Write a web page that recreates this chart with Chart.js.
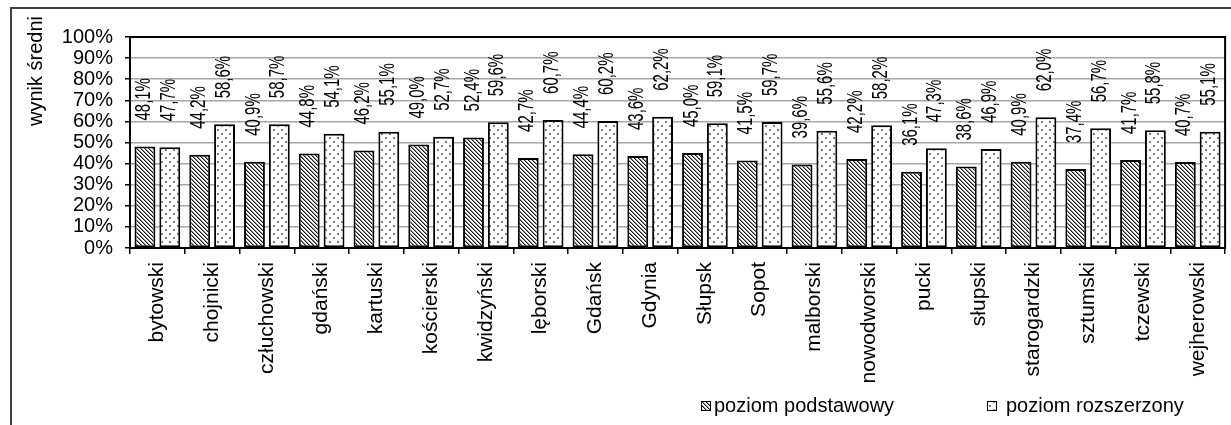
<!DOCTYPE html>
<html lang="pl">
<head>
    <meta charset="UTF-8">
    <title>wynik średni</title>
    <style>
        body {
            margin: 0;
            background-color: #ffffff;
            overflow: hidden;
        }
        #chartBox {
            width: 1231px;
            height: 425px;
        }
    </style>
</head>
<body>
    <div id="chartBox">
        <canvas id="wynikiChart" width="1231" height="425"></canvas>
    </div>

    <script src="https://cdn.jsdelivr.net/npm/chart.js"></script>

    <script>
        const powiaty = ['bytowski', 'chojnicki', 'człuchowski', 'gdański', 'kartuski', 'kościerski',
            'kwidzyński', 'lęborski', 'Gdańsk', 'Gdynia', 'Słupsk', 'Sopot', 'malborski',
            'nowodworski', 'pucki', 'słupski', 'starogardzki', 'sztumski', 'tczewski', 'wejherowski'];

        const poziomPodstawowy = [48.1, 44.2, 40.9, 44.8, 46.2, 49.0, 52.4, 42.7, 44.4, 43.6,
            45.0, 41.5, 39.6, 42.2, 36.1, 38.6, 40.9, 37.4, 41.7, 40.7];

        const poziomRozszerzony = [47.7, 58.6, 58.7, 54.1, 55.1, 52.7, 59.6, 60.7, 60.2, 62.2,
            59.1, 59.7, 55.6, 58.2, 47.3, 46.9, 62.0, 56.7, 55.8, 55.1];

        const seriesNames = ['poziom podstawowy', 'poziom rozszerzony'];
        const yTitle = 'wynik średni';

        // fill patterns: diagonal hatch and sparse dots
        function hatchPattern() {
            const c = document.createElement('canvas');
            c.width = 4; c.height = 4;
            const g = c.getContext('2d');
            g.fillStyle = '#fff';
            g.fillRect(0, 0, 4, 4);
            for (let i = 0; i < 4; i++) {
                g.fillStyle = '#1a1a1a';
                g.fillRect(i, i, 1, 1);
                g.fillStyle = '#8a8a8a';
                g.fillRect((i + 1) % 4, i, 1, 1);
            }
            return g.createPattern(c, 'repeat');
        }

        function dotPattern() {
            const c = document.createElement('canvas');
            c.width = 8; c.height = 8;
            const g = c.getContext('2d');
            g.fillStyle = '#fff';
            g.fillRect(0, 0, 8, 8);
            g.fillStyle = '#7a7a7a';
            g.fillRect(1, 1, 2, 2);
            g.fillRect(5, 5, 2, 2);
            return g.createPattern(c, 'repeat');
        }

        const fmt = v => v.toFixed(1).replace('.', ',') + '%';

        const framePlugin = {
            id: 'frame',
            beforeDraw(chart) {
                const ctx = chart.ctx;
                ctx.save();
                ctx.strokeStyle = '#404040';
                ctx.lineWidth = 2;
                ctx.strokeRect(11, 8, 1400, 600);
                ctx.restore();
            },
            afterDraw(chart) {
                const ctx = chart.ctx;
                const a = chart.chartArea;
                ctx.save();
                ctx.strokeStyle = '#000';
                ctx.lineWidth = 2;
                ctx.strokeRect(a.left, a.top, a.right - a.left, a.bottom - a.top);

                // y axis title
                ctx.translate(36, 71);
                ctx.rotate(-Math.PI / 2);
                ctx.font = '20px Arial, "Liberation Sans", sans-serif';
                ctx.fillStyle = '#000';
                ctx.textAlign = 'center';
                ctx.textBaseline = 'middle';
                ctx.fillText(yTitle, 0, 0);
                ctx.restore();

                // legend
                const items = [
                    { box: 701, text: 714 },
                    { box: 987, text: 1006 }
                ];
                ctx.save();
                ctx.font = '20px Arial, "Liberation Sans", sans-serif';
                ctx.textBaseline = 'middle';
                items.forEach((it, i) => {
                    ctx.fillStyle = chart.data.datasets[i].backgroundColor;
                    ctx.fillRect(it.box, 401, 9, 9);
                    ctx.strokeStyle = '#000';
                    ctx.lineWidth = 1;
                    ctx.strokeRect(it.box + 0.5, 401.5, 9, 9);
                    ctx.fillStyle = '#000';
                    ctx.fillText(seriesNames[i], it.text, 406);
                });
                ctx.restore();
            }
        };

        const valueLabels = {
            id: 'valueLabels',
            afterDatasetsDraw(chart) {
                const ctx = chart.ctx;
                ctx.save();
                ctx.font = '22px Arial, "Liberation Sans", sans-serif';
                ctx.fillStyle = '#000';
                ctx.textAlign = 'left';
                ctx.textBaseline = 'middle';
                chart.data.datasets.forEach((ds, di) => {
                    chart.getDatasetMeta(di).data.forEach((bar, i) => {
                        ctx.save();
                        ctx.translate(bar.x - 1, bar.y - 26);
                        ctx.rotate(-Math.PI / 2);
                        ctx.scale(0.68, 1);
                        ctx.fillText(fmt(ds.data[i]), 0, 0);
                        ctx.restore();
                    });
                });
                ctx.restore();
            }
        };

        new Chart(document.getElementById('wynikiChart').getContext('2d'), {
            type: 'bar',
            data: {
                labels: powiaty,
                datasets: [{
                    label: seriesNames[0],
                    data: poziomPodstawowy,
                    backgroundColor: hatchPattern(),
                    borderColor: '#000',
                    borderWidth: 2,
                    borderSkipped: false,
                    barPercentage: 0.84,
                    categoryPercentage: 0.907
                }, {
                    label: seriesNames[1],
                    data: poziomRozszerzony,
                    backgroundColor: dotPattern(),
                    borderColor: '#000',
                    borderWidth: 2,
                    borderSkipped: false,
                    barPercentage: 0.84,
                    categoryPercentage: 0.907
                }]
            },
            options: {
                responsive: false,
                animation: false,
                layout: {
                    padding: { left: 0, top: 37, right: 3, bottom: 0 }
                },
                plugins: {
                    legend: { display: false },
                    tooltip: { enabled: false }
                },
                scales: {
                    x: {
                        afterFit(scale) { scale.height = 177; },
                        grid: {
                            offset: true,
                            drawOnChartArea: false,
                            color: '#000',
                            tickLength: 6,
                            lineWidth: 1.5
                        },
                        border: { display: true, color: '#000', width: 2 },
                        ticks: {
                            autoSkip: false,
                            minRotation: 90,
                            maxRotation: 90,
                            padding: 8,
                            color: '#000',
                            font: { family: 'Arial, "Liberation Sans", sans-serif', size: 21 }
                        }
                    },
                    y: {
                        min: 0,
                        max: 100,
                        afterFit(scale) { scale.width = 130; },
                        grid: {
                            color: '#a6a6a6',
                            lineWidth: 1.5,
                            tickColor: '#000',
                            tickLength: 5
                        },
                        border: { display: true, color: '#000', width: 2 },
                        ticks: {
                            stepSize: 10,
                            autoSkip: false,
                            padding: 12,
                            color: '#000',
                            font: { family: 'Arial, "Liberation Sans", sans-serif', size: 20 },
                            callback: v => v + '%'
                        }
                    }
                }
            },
            plugins: [framePlugin, valueLabels]
        });
    </script>
</body>
</html>
